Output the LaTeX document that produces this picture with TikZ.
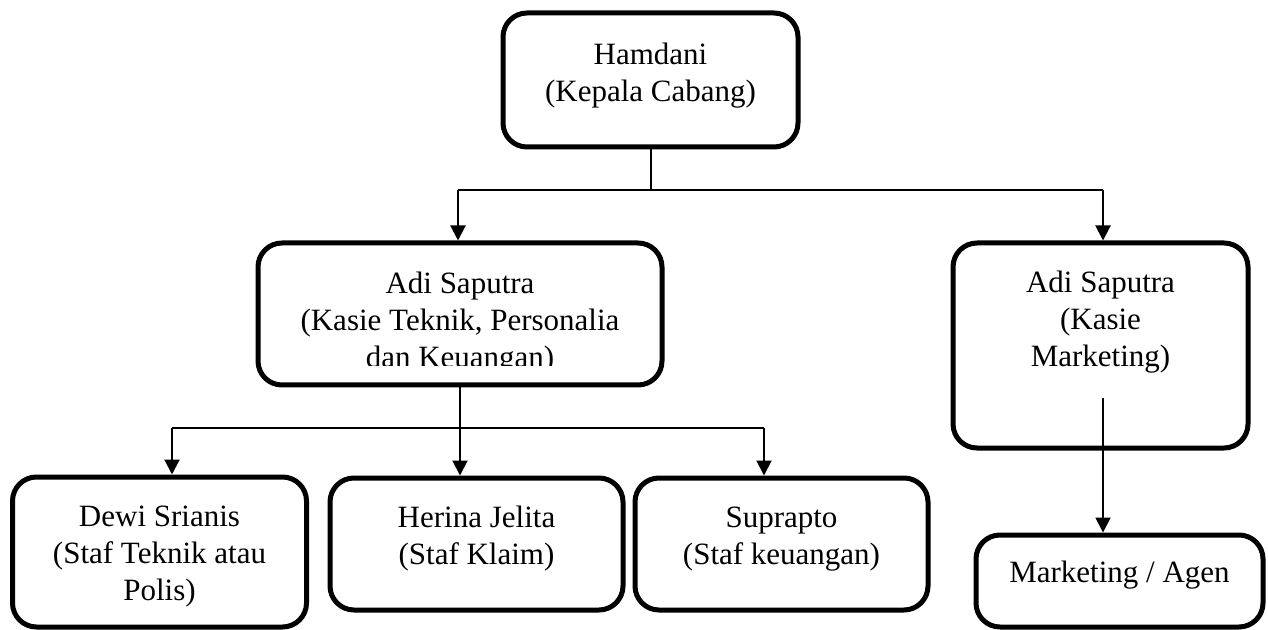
\documentclass[tikz,border=0pt]{standalone}
\usepackage{fontspec}
\setmainfont{Liberation Serif}
\usetikzlibrary{arrows.meta}
\begin{document}
\begin{tikzpicture}[x=0.5pt, y=-0.5pt,
    box/.style={shape=rectangle, rounded corners=12pt, draw=black, line width=2.5pt, inner sep=0pt},
    txt/.style={inner sep=0pt, align=center, font=\fontsize{15.5}{18.5}\selectfont},
    ln/.style={draw=black, line width=1pt},
    arr/.style={ln, -{Triangle[length=7.5pt, width=7.5pt]}}]

            \useasboundingbox (0,0) rectangle (1268,630);

            \node[box, minimum width=147.5pt, minimum height=67pt] (H) at (650.5,80) {};
            \node[box, minimum width=202pt, minimum height=71pt] (K1) at (460,314) {};
            \node[box, minimum width=147.5pt, minimum height=102.5pt] (K2) at (1100.5,345.5) {};
            \node[box, minimum width=147pt, minimum height=75pt] (S1) at (159.5,552) {};
            \node[box, minimum width=146.5pt, minimum height=66pt] (S2) at (476.5,544) {};
            \node[box, minimum width=146.5pt, minimum height=66pt] (S3) at (781.5,544) {};
            \node[box, minimum width=143.5pt, minimum height=46pt] (M1) at (1119.5,581) {};

            \node[txt] (Ht) at (650.5,75.5) {Hamdani\\(Kepala Cabang)};
            \begin{scope}
                \clip (258,243) rectangle (662,366);
                \node[txt] (K1t) at (460,323.5) {Adi Saputra\\(Kasie Teknik, Personalia\\dan Keuangan)};
            \end{scope}
            \node[txt] (K2t) at (1100.5,322.5) {Adi Saputra\\(Kasie\\Marketing)};
            \node[txt] (S1t) at (159.5,556.5) {Dewi Srianis\\(Staf Teknik atau\\Polis)};
            \node[txt] (S2t) at (476.5,538.5) {Herina Jelita\\(Staf Klaim)};
            \node[txt] (S3t) at (781.5,539) {Suprapto\\(Staf keuangan)};
            \node[txt] (M1t) at (1119.5,575) {Marketing / Agen};

            \coordinate (TL) at (458,190);
            \coordinate (TR) at (1103,190);
            \coordinate (BL) at (172,428);
            \coordinate (BR) at (764,428);
            \coordinate (MS) at (1103,398);

            \draw[ln] (H.south) -- (H.south |- TL);
            \draw[ln] (TL) -- (TR);
            \draw[arr] (TL) -- (TL |- K1.north);
            \draw[arr] (TR) -- (TR |- K2.north);

            \draw[arr] (K1.south) -- (K1.south |- S2.north);
            \draw[ln] (BL) -- (BR);
            \draw[arr] (BL) -- (BL |- S1.north);
            \draw[arr] (BR) -- (BR |- S3.north);

            \draw[arr] (MS) -- (MS |- M1.north);
\end{tikzpicture}
\end{document}
